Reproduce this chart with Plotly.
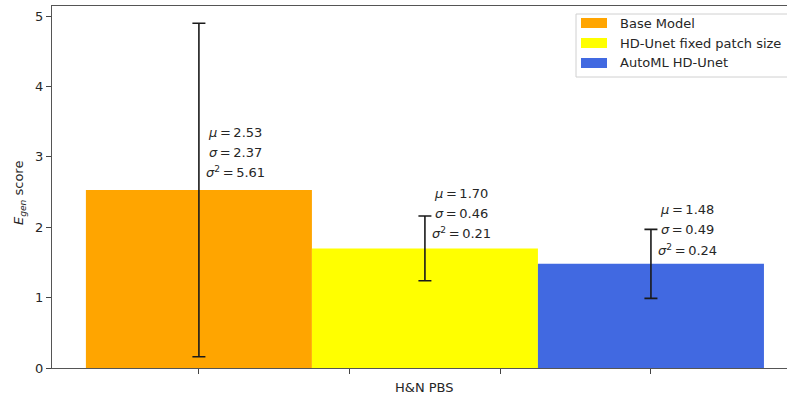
import plotly.graph_objects as go

# ---- data ----
categories = ["Base Model", "HD-Unet fixed patch size", "AutoML HD-Unet"]
means = [2.53, 1.70, 1.48]
stds = [2.37, 0.46, 0.49]
variances = [5.61, 0.21, 0.24]
colors = ["#FFA500", "#FFFF00", "#4169E1"]
group_label = "H&N PBS"
ytick_vals = [0, 1, 2, 3, 4, 5]

W, H = 787, 400
L, R, T, B = 52, 0, 6, 32
FONT = "DejaVu Sans"
TXT = "#262626"
FS = 13
SP = "\u2009=\u2009"

fig = go.Figure()
for i, (name, m, s, c) in enumerate(zip(categories, means, stds, colors)):
    fig.add_trace(go.Bar(
        x=[i], y=[m], width=1, name=name, marker=dict(color=c, line=dict(width=0)),
        error_y=dict(type="data", array=[s], visible=True, color="#1a1a1a",
                     thickness=1.6, width=6.5),
        showlegend=False,
    ))

# stats annotations
ann = []
for i, (m, s, v) in enumerate(zip(means, stds, variances)):
    base = m * 1.05
    lines = [f"<i>σ</i><sup>2</sup>{SP}{v:.2f}", f"<i>σ</i>{SP}{s:.2f}", f"<i>μ</i>{SP}{m:.2f}"]
    for k, t in enumerate(lines):
        ann.append(dict(x=i + 0.16, y=base, xref="x", yref="y", text=t, showarrow=False,
                        xanchor="center", yanchor="middle", yshift=9 + 20 * k,
                        font=dict(family=FONT, size=FS, color=TXT)))

pw = W - L - R
ph = H - T - B
def px(xp):
    return (xp - L) / pw
def py(yp):
    return (H - B - yp) / ph

# x group label
ann.append(dict(x=1, y=py(387), xref="x", yref="paper", text=group_label, showarrow=False,
                xanchor="center", yanchor="middle", font=dict(family=FONT, size=FS, color=TXT)))
# y axis label
ann.append(dict(x=px(19), y=py(193), xref="paper", yref="paper",
                text="<i>E</i><sub><i>gen</i></sub> score", textangle=-90, showarrow=False,
                xanchor="center", yanchor="middle", font=dict(family=FONT, size=FS, color=TXT)))

# manual legend
shapes = [dict(type="rect", xref="paper", yref="paper", x0=px(576), x1=px(800),
               y0=py(77), y1=py(14), line=dict(color="#d0d0d0", width=1), fillcolor="white",
               layer="above")]
for k, (name, c) in enumerate(zip(categories, colors)):
    yc = 23 + 20 * k
    shapes.append(dict(type="rect", xref="paper", yref="paper", x0=px(581), x1=px(607),
                       y0=py(yc + 5), y1=py(yc - 5), line=dict(width=0), fillcolor=c,
                       layer="above"))
    ann.append(dict(x=px(618), y=py(yc), xref="paper", yref="paper", text=name,
                    showarrow=False, xanchor="left", yanchor="middle",
                    font=dict(family=FONT, size=FS, color=TXT)))

fig.update_layout(
    width=W, height=H, margin=dict(l=L, r=R, t=T, b=B, autoexpand=False),
    paper_bgcolor="white", plot_bgcolor="white",
    barmode="overlay", showlegend=False,
    font=dict(family=FONT, size=FS, color=TXT),
    annotations=ann, shapes=shapes,
    xaxis=dict(range=[-0.65, 2.602], tickvals=[0, 2/3, 4/3, 2], showticklabels=False,
               ticks="outside", ticklen=5, tickcolor="#444", showline=True, linecolor="#555",
               linewidth=1, mirror=True, showgrid=False, zeroline=False, fixedrange=True),
    yaxis=dict(range=[0, 5.145], tickvals=ytick_vals, ticks="outside", ticklen=5,
               tickcolor="#444", showline=True, linecolor="#555", linewidth=1,
               showgrid=False, zeroline=False, tickfont=dict(family=FONT, size=FS, color=TXT)),
)

fig.write_html("out.html")
